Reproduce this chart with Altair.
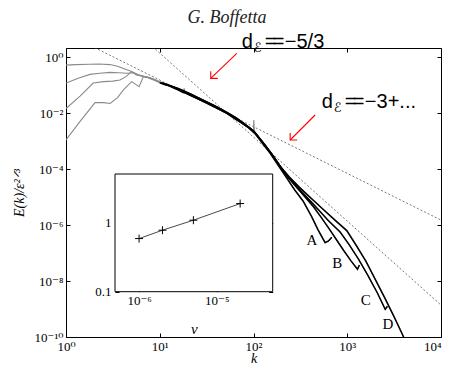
import altair as alt
import pandas as pd
import numpy as np

# ---------------- data (log10 values) ----------------
run_names = ["A", "B", "C", "D"]

A_logk = [0.00, 0.15, 0.31, 0.40, 0.47, 0.55, 0.61, 0.70, 0.78, 0.825, 0.88, 0.95, 1.00, 1.05, 1.10, 1.15, 1.20, 1.25, 1.26, 1.27, 1.32, 1.40, 1.48, 1.56, 1.64, 1.72, 1.80, 1.88, 1.95, 2.02, 2.10, 2.18, 2.26, 2.35, 2.44, 2.53, 2.62, 2.69, 2.764, 2.80, 2.835]
A_logE = [-2.96, -2.30, -1.63, -1.63, -1.66, -1.45, -1.18, -0.88, -1.06, -0.70, -0.73, -0.83, -0.92, -0.98, -1.03, -1.11, -1.18, -1.27, -1.12, -1.28, -1.36, -1.48, -1.60, -1.74, -1.88, -2.02, -2.20, -2.37, -2.53, -2.75, -3.10, -3.45, -3.85, -4.30, -4.75, -5.15, -5.70, -6.18, -6.63, -6.57, -6.44]

B_logk = [0.00, 0.15, 0.29, 0.40, 0.50, 0.576, 0.64, 0.70, 0.75, 0.80, 0.86, 0.92, 0.98, 1.04, 1.10, 1.16, 1.22, 1.30, 1.38, 1.46, 1.54, 1.62, 1.70, 1.78, 1.86, 1.94, 2.02, 2.10, 2.18, 2.26, 2.35, 2.45, 2.55, 2.64, 2.72, 2.80, 2.88, 2.96, 3.04, 3.109, 3.13]
B_logE = [-1.84, -1.40, -0.93, -0.88, -0.86, -0.82, -0.70, -0.52, -0.64, -0.68, -0.72, -0.80, -0.88, -0.96, -1.02, -1.10, -1.20, -1.32, -1.45, -1.58, -1.71, -1.84, -1.98, -2.14, -2.32, -2.50, -2.72, -3.05, -3.40, -3.78, -4.22, -4.62, -5.00, -5.35, -5.72, -6.10, -6.50, -6.90, -7.28, -7.58, -7.43]

C_logk = [0.00, 0.13, 0.256, 0.36, 0.47, 0.56, 0.65, 0.72, 0.79, 0.85, 0.91, 0.97, 1.03, 1.09, 1.15, 1.21, 1.27, 1.34, 1.42, 1.50, 1.58, 1.66, 1.74, 1.82, 1.90, 1.97, 2.00, 2.003, 2.01, 2.06, 2.14, 2.22, 2.30, 2.40, 2.50, 2.60, 2.70, 2.80, 2.924, 3.02, 3.12, 3.22, 3.32, 3.405, 3.429]
C_logE = [-0.93, -0.76, -0.62, -0.58, -0.55, -0.56, -0.58, -0.56, -0.66, -0.71, -0.76, -0.84, -0.93, -1.00, -1.07, -1.14, -1.23, -1.34, -1.47, -1.60, -1.73, -1.87, -2.02, -2.18, -2.38, -2.56, -2.64, -2.25, -2.66, -2.88, -3.22, -3.58, -3.98, -4.40, -4.76, -5.12, -5.48, -5.85, -6.25, -6.70, -7.22, -7.80, -8.42, -9.01, -8.90]

D_logk = [0.00, 0.10, 0.25, 0.35, 0.47, 0.55, 0.62, 0.70, 0.77, 0.83, 0.89, 0.95, 1.01, 1.07, 1.13, 1.19, 1.25, 1.33, 1.41, 1.49, 1.57, 1.65, 1.73, 1.81, 1.89, 1.96, 2.04, 2.12, 2.20, 2.28, 2.38, 2.48, 2.60, 2.73, 2.86, 2.995, 3.10, 3.20, 3.30, 3.40, 3.50, 3.58, 3.65]
D_logE = [-0.29, -0.27, -0.26, -0.25, -0.27, -0.33, -0.42, -0.52, -0.63, -0.69, -0.73, -0.81, -0.91, -0.98, -1.05, -1.12, -1.22, -1.33, -1.46, -1.59, -1.72, -1.86, -2.01, -2.17, -2.36, -2.53, -2.80, -3.14, -3.50, -3.88, -4.28, -4.62, -5.00, -5.40, -5.80, -6.20, -6.75, -7.30, -7.95, -8.60, -9.28, -9.85, -10.35]

# isolated spikes drawn only in the grey trace: (run, point index)
spike_run = ["A", "C"]
spike_idx = [18, 27]

# reference power laws (end points)
ref_names = ["-5/3", "-3"]
ref_k = [[1.0, 1e4], [1.0, 1e4]]
ref_E = [[7.0, 1.5e-6], [1380.0, 1.38e-9]]

# inset data
inset_nu = [1e-6, 2e-6, 5e-6, 2e-5]
inset_val = [0.59, 0.78, 1.09, 1.9]

# header text and annotation anchors (k, E)
title_text = ["G. Boffetta"]
title_k = [52.3]
title_E = [16.4]

ann_k = [75.0, 536.0]
ann_E = [2.10, 0.0147]
ann_rest = ["\u2212" + "5/3", "\u2212" + "3+..."]

arrow_k1 = [66.3, 454.0]
arrow_E1 = [1.355, 0.00849]
arrow_k2 = [35.0, 246.0]
arrow_E2 = [0.173, 0.001086]

letter_text = ["A", "B", "C", "D"]
letter_k = [419.0, 780.0, 1578.0, 2713.0]
letter_E = [10**-6.536, 10**-7.357, 10**-8.679, 10**-9.546]

# tick values / labels
x_ticks = [1, 10, 100, 1000, 10000]
x_labels = ["10\u2070", "10\u00b9", "10\u00b2", "10\u00b3", "10\u2074"]
y_ticks = [1, 1e-2, 1e-4, 1e-6, 1e-8, 1e-10]
y_labels = ["10\u2070", "10\u207b\u00b2", "10\u207b\u2074", "10\u207b\u2076", "10\u207b\u2078", "10\u207b\u00b9\u2070"]
ix_ticks = [1e-6, 1e-5]
ix_labels = ["10\u207b\u2076", "10\u207b\u2075"]
iy_ticks = [0.1, 1]
iy_labels = ["0.1", "1"]

# ---------------- build tables ----------------
rows = []
for name, lk, le in zip(run_names, [A_logk, B_logk, C_logk, D_logk], [A_logE, B_logE, C_logE, D_logE]):
    for i, (a, b) in enumerate(zip(lk, le)):
        spike = any(name == r and i == j for r, j in zip(spike_run, spike_idx))
        rows.append({"run": name, "i": i, "k": 10 ** a, "E": 10 ** b, "spike": int(spike)})
spec = pd.DataFrame(rows)

ref = pd.DataFrame([{"line": n, "i": j, "k": kk, "E": ee}
                    for n, ks, es in zip(ref_names, ref_k, ref_E)
                    for j, (kk, ee) in enumerate(zip(ks, es))])
inset = pd.DataFrame({"nu": inset_nu, "val": inset_val})
ttl = pd.DataFrame({"t": title_text, "k": title_k, "E": title_E})
ann = pd.DataFrame({"k": ann_k, "E": ann_E, "rest": ann_rest})
arrows = pd.DataFrame({"k1": arrow_k1, "E1": arrow_E1, "k2": arrow_k2, "E2": arrow_E2})
letters = pd.DataFrame({"t": letter_text, "k": letter_k, "E": letter_E})

IX_LO, IX_HI = 10 ** -6.31, 10 ** -4.28
IY_LO, IY_HI = 0.1, 5.1
frame = pd.DataFrame({"x1": [IX_LO], "x2": [IX_HI], "y1": [IY_LO], "y2": [IY_HI]})


def label_expr(values, labels):
    s = "''"
    for v, l in reversed(list(zip(values, labels))):
        s = f"(abs(datum.value/{v!r} - 1) < 1e-6 ? '{l}' : {s})"
    return s


W, H = 375, 289
SERIF = "Liberation Serif, DejaVu Serif"
SANS = "Liberation Sans, DejaVu Sans"

XS = alt.Scale(type="log", domain=[1, 1e4], nice=False)
YS = alt.Scale(type="log", domain=[1e-10, 2.1], nice=False)

common_ax = dict(domain=False, grid=False, tickSize=4, tickColor="black", labelColor="black",
                 labelFont=SERIF, labelFontSize=13, labelFlush=False, labelOverlap=False,
                 titleFont=SERIF, titleFontStyle="italic", titleFontWeight="normal",
                 titleColor="black")

x_main = alt.Axis(orient="bottom", offset=-4, values=x_ticks, labelExpr=label_expr(x_ticks, x_labels),
                  labelAlign={"condition": {"test": "datum.value > 5000", "value": "right"},
                              "value": "center"},
                  labelPadding=3, title="k", titleFontSize=14, titlePadding=-2, **common_ax)
y_main = alt.Axis(orient="left", offset=-4, values=y_ticks, labelExpr=label_expr(y_ticks, y_labels),
                  labelPadding=3, title="E(k)/\u03b5\u00b2\u141f\u00b3", titleFontSize=14, titlePadding=8,
                  **common_ax)
x_top = alt.Axis(orient="top", offset=-4, values=x_ticks, labels=False, title=None, **common_ax)
y_right = alt.Axis(orient="right", offset=-4, values=y_ticks, labels=False, title=None, **common_ax)

enc_xy = dict(x=alt.X("k:Q", scale=XS, axis=None), y=alt.Y("E:Q", scale=YS, axis=None))

gray = alt.Chart(spec).mark_line(color="#8a8a8a", strokeWidth=1.1, clip=True).encode(
    x=alt.X("k:Q", scale=XS, axis=x_main),
    y=alt.Y("E:Q", scale=YS, axis=y_main),
    detail="run:N", order="i:Q")

black = alt.Chart(spec).transform_filter("datum.k >= 10 && datum.spike == 0").mark_line(
    color="black", strokeWidth=1.5, clip=True).encode(detail="run:N", order="i:Q", **enc_xy)

dotted = alt.Chart(ref).mark_line(color="#555555", strokeWidth=0.8, strokeDash=[2, 2], clip=True).encode(
    x=alt.X("k:Q", scale=XS, axis=x_top),
    y=alt.Y("E:Q", scale=YS, axis=y_right),
    detail="line:N", order="i:Q")

title_mark = alt.Chart(ttl).mark_text(align="center", baseline="alphabetic", font=SERIF,
                                      fontStyle="italic", fontSize=18, color="#222222").encode(
    text="t:N", **enc_xy)

ann_d = alt.Chart(ann).mark_text(text="d", align="left", baseline="alphabetic", font=SANS,
                                 fontSize=20, color="black").encode(**enc_xy)
ann_sub = alt.Chart(ann).mark_text(text="\u2130", align="left", baseline="alphabetic", font=SANS,
                                   fontSize=13, dx=12, dy=4, color="black").encode(**enc_xy)
ann_eq1 = alt.Chart(ann).mark_text(text="=", align="left", baseline="alphabetic", font=SANS,
                                   fontSize=20, dx=23, color="black").encode(**enc_xy)
ann_eq2 = alt.Chart(ann).mark_text(text="=", align="left", baseline="alphabetic", font=SANS,
                                   fontSize=20, dx=31, color="black").encode(**enc_xy)
ann_r = alt.Chart(ann).mark_text(align="left", baseline="alphabetic", font=SANS,
                                 fontSize=20, dx=43, color="black").encode(text="rest:N", **enc_xy)

arrow_line = alt.Chart(arrows).mark_rule(color="red", strokeWidth=1.1).encode(
    x=alt.X("k1:Q", scale=XS, axis=None), y=alt.Y("E1:Q", scale=YS, axis=None),
    x2="k2:Q", y2="E2:Q")
arrow_head = alt.Chart(arrows).mark_point(shape="M0,-1L0,0L1,0", filled=False, color="red",
                                          size=196, strokeWidth=1.1, opacity=1).encode(
    x=alt.X("k2:Q", scale=XS, axis=None), y=alt.Y("E2:Q", scale=YS, axis=None))

letter_marks = alt.Chart(letters).mark_text(font=SERIF, fontSize=15, color="black",
                                            align="center", baseline="middle").encode(
    text="t:N", **enc_xy)

# ---------------- inset ----------------
IXS = alt.Scale(type="log", domain=[IX_LO, IX_HI], range=[49, 206.7], nice=False)
IYS = alt.Scale(type="log", domain=[IY_LO, IY_HI], range=[243.7, 126], nice=False)

ix_axis = alt.Axis(orient="bottom", offset=239.7 - H, values=ix_ticks,
                   labelExpr=label_expr(ix_ticks, ix_labels), labelPadding=3,
                   title="\u03bd", titleFontSize=15, titlePadding=14, **common_ax)
iy_axis = alt.Axis(orient="left", offset=-53, values=iy_ticks,
                   labelExpr=label_expr(iy_ticks, iy_labels), labelPadding=4, title=None, **common_ax)
ix_top = alt.Axis(orient="top", offset=-130, values=ix_ticks, labels=False, title=None, **common_ax)
iy_right = alt.Axis(orient="right", offset=206.7 - 4 - W, values=iy_ticks, labels=False, title=None,
                    **common_ax)

inset_frame = alt.Chart(frame).mark_rect(fill="white", stroke="black", strokeWidth=1).encode(
    x=alt.X("x1:Q", scale=IXS, axis=ix_axis), x2="x2:Q",
    y=alt.Y("y1:Q", scale=IYS, axis=iy_axis), y2="y2:Q")

inset_line = alt.Chart(inset).mark_line(color="#333333", strokeWidth=0.9).encode(
    x=alt.X("nu:Q", scale=IXS, axis=ix_top), y=alt.Y("val:Q", scale=IYS, axis=iy_right))
inset_pts = alt.Chart(inset).mark_point(shape="M-1,0L1,0M0,-1L0,1", filled=False, color="black",
                                        size=64, strokeWidth=1, opacity=1).encode(
    x=alt.X("nu:Q", scale=IXS, axis=None), y=alt.Y("val:Q", scale=IYS, axis=None))

chart = alt.layer(
    dotted, gray, black, title_mark, ann_d, ann_sub, ann_eq1, ann_eq2, ann_r, arrow_line, arrow_head,
    letter_marks, inset_frame, inset_line, inset_pts
).resolve_scale(x="independent", y="independent").properties(
    width=W, height=H,
    autosize=alt.AutoSizeParams(type="none"),
    padding={"left": 58, "top": 40, "right": 1, "bottom": 28},
).configure_view(stroke="black", strokeWidth=1)

chart.save("out.html", embed_options={"renderer": "svg", "actions": False})
